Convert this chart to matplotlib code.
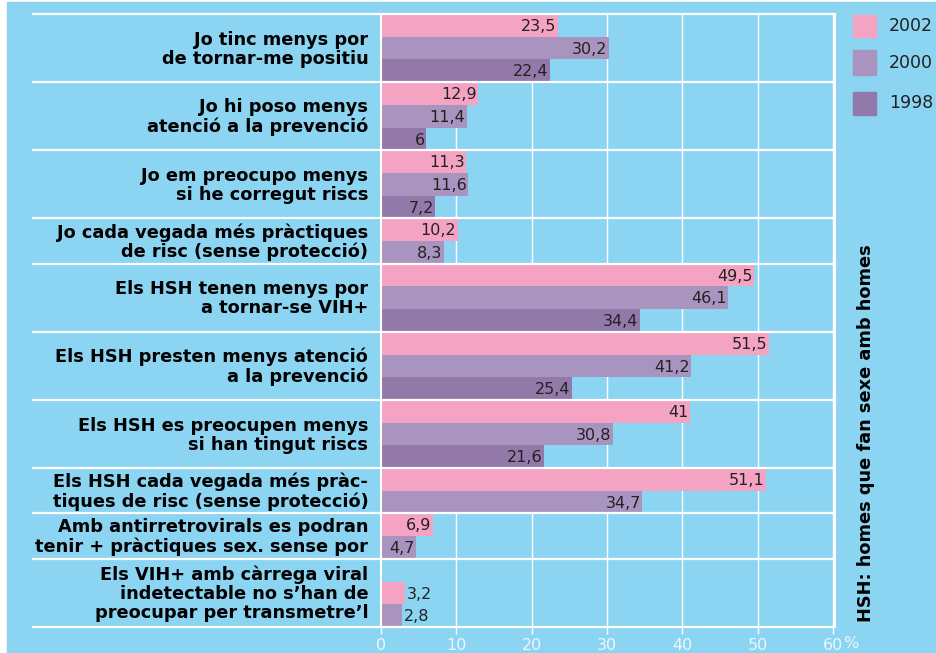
import matplotlib.pyplot as plt
from matplotlib.patches import Rectangle

# data
labels = [
    "Jo tinc menys por\nde tornar-me positiu",
    "Jo hi poso menys\natenció a la prevenció",
    "Jo em preocupo menys\nsi he corregut riscs",
    "Jo cada vegada més pràctiques\nde risc (sense protecció)",
    "Els HSH tenen menys por\na tornar-se VIH+",
    "Els HSH presten menys atenció\na la prevenció",
    "Els HSH es preocupen menys\nsi han tingut riscs",
    "Els HSH cada vegada més pràc-\ntiques de risc (sense protecció)",
    "Amb antirretrovirals es podran\ntenir + pràctiques sex. sense por",
    "Els VIH+ amb càrrega viral\nindetectable no s’han de\npreocupar per transmetre’l",
]
group_rows = [3, 3, 3, 2, 3, 3, 3, 2, 2, 3]
v2002 = [23.5, 12.9, 11.3, 10.2, 49.5, 51.5, 41, 51.1, 6.9, 3.2]
v2000 = [30.2, 11.4, 11.6, 8.3, 46.1, 41.2, 30.8, 34.7, 4.7, 2.8]
v1998 = [22.4, 6, 7.2, None, 34.4, 25.4, 21.6, None, None, None]
years = ["2002", "2000", "1998"]
xticks = [0, 10, 20, 30, 40, 50, 60]

colors = ["#f5a3c3", "#a993bf", "#9279a9"]
blue = "#8bd5f3"
W, H = 937, 653

fig = plt.figure(figsize=(W / 100, H / 100), dpi=100)
fig.patch.set_facecolor("white")
fig.patches.append(Rectangle((7 / W, 0), 1, 1 - 2 / H, transform=fig.transFigure,
                             color=blue, zorder=-1))

ax = fig.add_axes([381 / W, 1 - 627 / H, (835 - 381) / W, (627 - 14) / H])
ax.patch.set_visible(False)
total_rows = sum(group_rows)
ax.set_ylim(total_rows, 0)
ax.set_xlim(0, 60 * (835 - 381) / (833 - 381))

for x in xticks[1:]:
    ax.axvline(x, color="white", lw=1, zorder=1)


def fmt(v):
    return f"{v:g}".replace(".", ",")


start = 0
for i, n in enumerate(group_rows):
    vals = [v for v in (v2002[i], v2000[i], v1998[i]) if v is not None]
    cols = [c for v, c in zip((v2002[i], v2000[i], v1998[i]), colors) if v is not None]
    first = start + n - len(vals)
    for j, (v, c) in enumerate(zip(vals, cols)):
        yc = first + j + 0.5
        ax.barh(yc, v, height=1.0, color=c, zorder=2)
        if v < 4:
            ax.text(v + 0.2, yc + 0.05, fmt(v), ha="left", va="center",
                    fontsize=11.5, color="#222222", zorder=3)
        else:
            ax.text(v - 0.2, yc + 0.05, fmt(v), ha="right", va="center",
                    fontsize=11.5, color="#222222", zorder=3)
    ax.text(-0.028, start + n / 2 + 0.05, labels[i], transform=ax.get_yaxis_transform(),
            ha="right", va="center", fontsize=12.8, fontweight="bold",
            linespacing=1.08, color="black")
    start += n

# separators
bounds = [0]
for n in group_rows:
    bounds.append(bounds[-1] + n)
ax.hlines(bounds, (32 - 381) / 454, 1, transform=ax.get_yaxis_transform(),
          colors="white", lw=1.6, clip_on=False, zorder=4)

for side in ["top", "bottom"]:
    ax.spines[side].set_visible(False)
for side in ["left", "right"]:
    ax.spines[side].set_color("white")
    ax.spines[side].set_linewidth(1.5)
    ax.spines[side].set_zorder(5)

ax.set_yticks([])
ax.set_xticks(xticks)
ax.tick_params(axis="x", colors="white", length=5, width=1, pad=3,
               labelcolor="#eaf7fd", labelsize=11.5)
fig.text(843 / W, 1 - 643 / H, "%", color="#eaf7fd", fontsize=11.5, va="center")

# legend
legend_y = [(15, 37), (50, 75), (92, 115)]
for (y0, y1), c, yr in zip(legend_y, colors, years):
    fig.patches.append(Rectangle((853 / W, 1 - y1 / H), 23 / W, (y1 - y0) / H,
                                 transform=fig.transFigure, color=c))
    fig.text(889 / W, 1 - (y0 + y1) / 2 / H, yr, fontsize=12.5, color="#222222",
             va="center", ha="left")

fig.text(866 / W, 1 - 433 / H, "HSH: homes que fan sexe amb homes", rotation=90,
         ha="center", va="center", fontsize=12.8, fontweight="bold", color="black")

fig.savefig("out.png", dpi=100)
